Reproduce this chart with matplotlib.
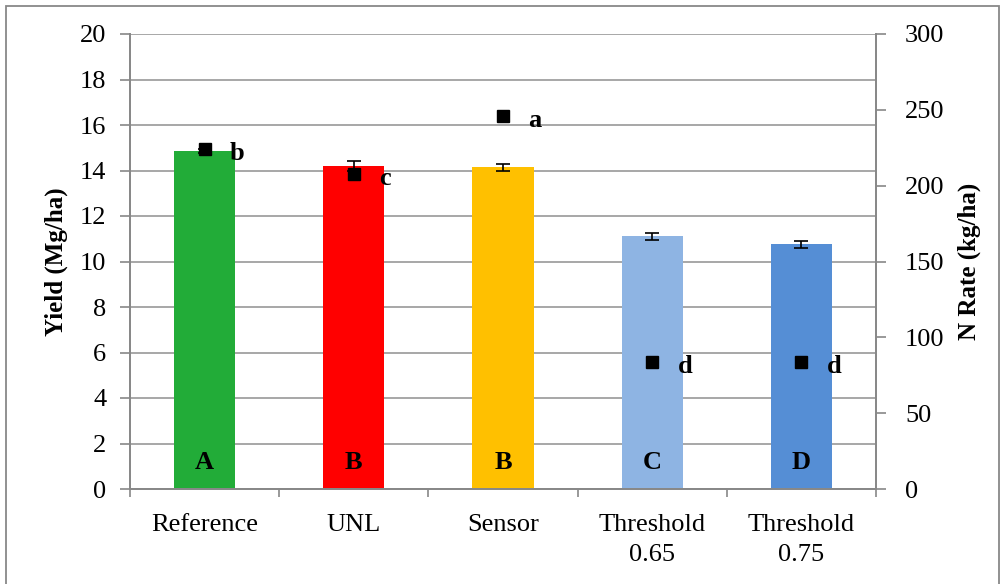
import numpy as np
import matplotlib.pyplot as plt
from matplotlib.patches import Rectangle

# yield and N rate by treatment
treatments = ["Reference", "UNL", "Sensor", "Threshold\n0.65", "Threshold\n0.75"]
yield_mean = [14.87, 14.2, 14.15, 11.1, 10.75]
yield_err = [0.08, 0.22, 0.15, 0.15, 0.15]
yield_groups = ["A", "B", "B", "C", "D"]
n_rate = [224, 208, 246, 84, 84]
n_groups = ["b", "c", "a", "d", "d"]
bar_colors = ["#22ac38", "#ff0000", "#ffc000", "#8eb4e3", "#558ed5"]

plt.rcParams['font.family'] = ['Liberation Serif', 'DejaVu Serif']

fig = plt.figure(figsize=(10.03, 5.84), dpi=100)
ax = fig.add_axes([130/1003, 1 - 489/584, 746/1003, 455/584])
ax2 = ax.twinx()

x = np.arange(len(treatments))
ax.bar(x, yield_mean, width=0.41, color=bar_colors, zorder=2)
ax.errorbar(x, yield_mean, yerr=yield_err, fmt="none", ecolor="black",
            elinewidth=1.2, capsize=5, capthick=1.2, zorder=3)
for xi, g in zip(x, yield_groups):
    ax.text(xi, 1.15, g, ha="center", va="center", fontsize=19, fontweight="bold")

ax.set_xlim(-0.5, len(treatments) - 0.5)
ax.set_ylim(0, 20)
ax.set_yticks(np.arange(0, 21, 2))
ax.set_xticks(x)
ax.set_xticklabels(treatments, fontsize=19, linespacing=1.45)
ax.set_xticks(np.arange(-0.5, len(treatments), 1), minor=True)
ax.tick_params(axis="x", which="major", length=0, pad=18)
ax.tick_params(axis="x", which="minor", length=6, color="#888888", width=1.2)
ax.tick_params(axis="y", length=7, color="#888888", width=1.2, labelsize=19, pad=10)
ax.yaxis.grid(True, color="#a0a0a0", linewidth=1.3, zorder=0)
ax.set_axisbelow(True)
ax.set_ylabel("Yield (Mg/ha)", fontsize=18, fontweight="bold")
ax.yaxis.set_label_coords(-62/746, 0.5)

ax2.plot(x, n_rate, "s", color="black", markersize=8, zorder=4)
for xi, v, g in zip(x, n_rate, n_groups):
    ax2.text(xi + 0.17, v - 3, g, ha="left", va="center", fontsize=19, fontweight="bold")
ax2.set_ylim(0, 300)
ax2.set_yticks(np.arange(0, 301, 50))
ax2.tick_params(axis="y", length=7, color="#888888", width=1.2, labelsize=19, pad=14)
ax2.set_ylabel("N Rate (kg/ha)", fontsize=18, fontweight="bold")
ax2.yaxis.set_label_coords(1 + 82/746, 0.5)

for a in (ax, ax2):
    a.spines["top"].set_visible(False)
    for side in ("left", "right", "bottom"):
        a.spines[side].set_color("#888888")
        a.spines[side].set_linewidth(1.3)

# outer chart border
fig.patches.append(Rectangle((6/1003, -0.1), 993/1003, 1.1 - 6/584, transform=fig.transFigure,
                             fill=False, edgecolor="#888888", linewidth=1.3))

fig.savefig("out.png", dpi=100)
